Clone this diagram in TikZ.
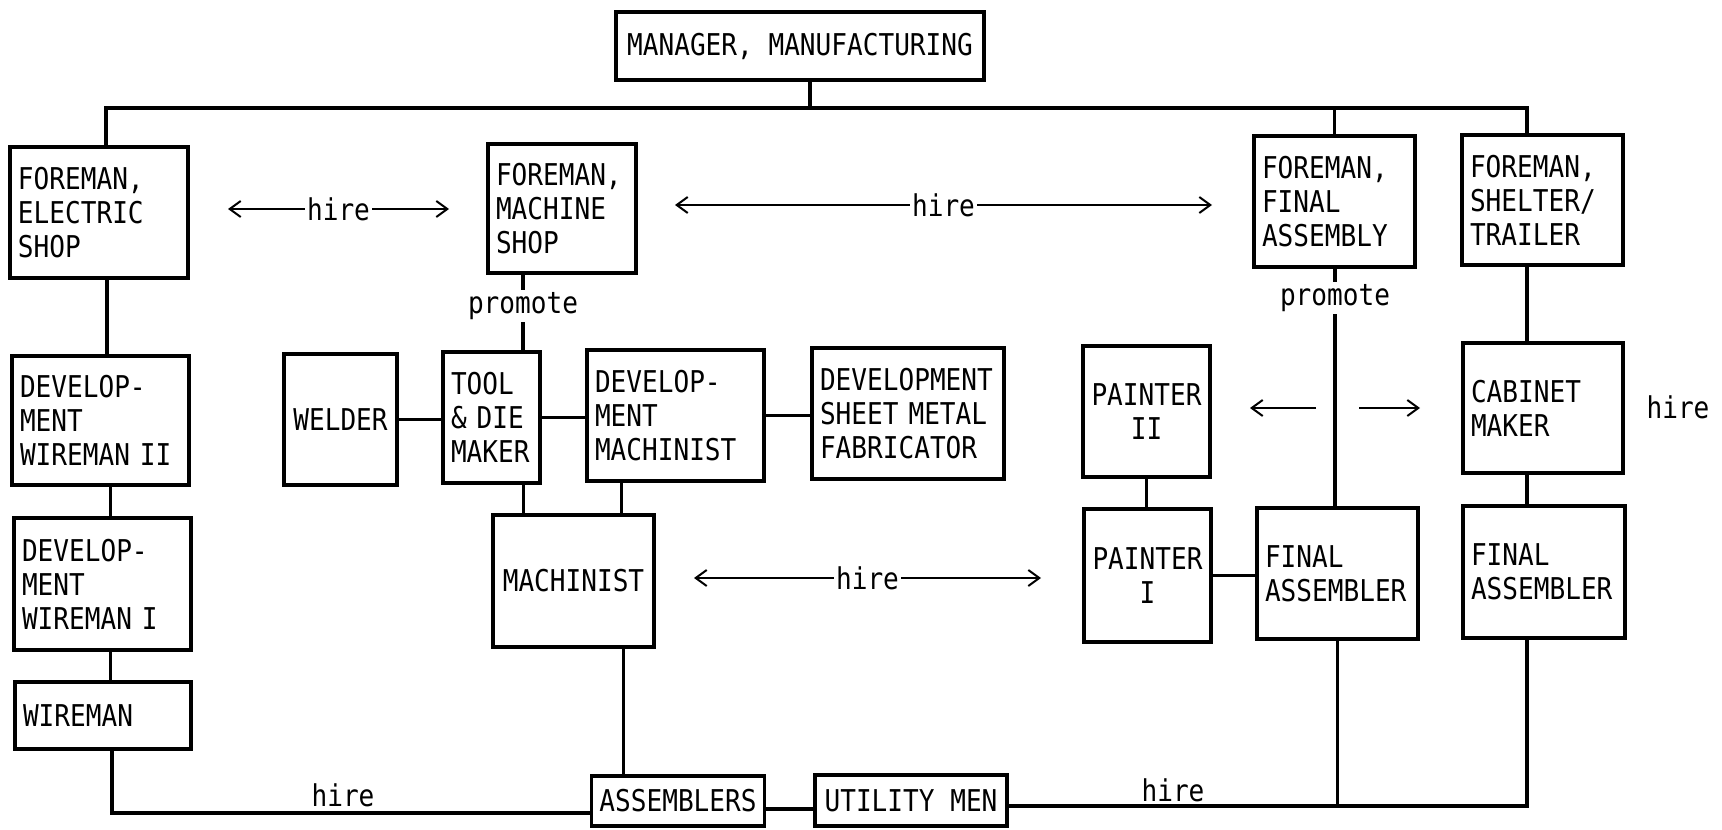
\documentclass[tikz,border=0pt]{standalone}
\usepackage{fontspec}
\newfontfamily\typer{DejaVu Sans Mono}[FakeStretch=0.87]
\usetikzlibrary{arrows.meta}

\tikzset{
  txt/.style={font=\typer\fontsize{15}{17}\selectfont},
  box/.style={txt, draw, line width=1.7pt, inner xsep=4pt, inner ysep=0pt, align=left},
  cbox/.style={box, align=center},
  link/.style={line width=1.7pt},
  hirearrow/.style={line width=1pt},
  tag/.style={txt, inner sep=1pt},
}

\begin{document}
\begin{tikzpicture}[x=0.5pt, y=-0.5pt, >={Straight Barb[length=5.5pt,width=8pt]}]
  \useasboundingbox (0,0) rectangle (1722,829);

  % boxes
  \node[cbox, minimum width=184pt, minimum height=34pt] (mgr) at (800,46) {MANAGER, MANUFACTURING};
  \node[box, text width=81pt, minimum height=65.5pt] (fel) at (99,212.5) {FOREMAN,\\ELECTRIC\\SHOP};
  \node[box, text width=66pt, minimum height=64.5pt] (fms) at (562,208.5) {FOREMAN,\\MACHINE\\SHOP};
  \node[box, text width=72.5pt, minimum height=65.5pt] (fa1) at (1334.5,201.5) {FOREMAN,\\FINAL\\ASSEMBLY};
  \node[box, text width=72.5pt, minimum height=65pt] (fsh) at (1542.5,200) {FOREMAN,\\SHELTER/\\TRAILER};

  \node[box, text width=80.5pt, minimum height=64.5pt] (dw2) at (100.5,420.5) {DEVELOP-\\MENT\\WIREMAN II};
  \node[box, text width=80.5pt, minimum height=66pt] (dw1) at (102.5,584) {DEVELOP-\\MENT\\WIREMAN I};
  \node[box, text width=80pt, minimum height=33.5pt] (wrm) at (103,715.5) {WIREMAN};

  \node[cbox, minimum width=56.5pt, minimum height=65.5pt] (wld) at (340.5,419.5) {WELDER};
  \node[box, text width=40.5pt, minimum height=65.5pt] (tool) at (491.5,417.5) {TOOL\\\& DIE\\MAKER};
  \node[box, text width=80.5pt, minimum height=65.5pt] (dmc) at (675.5,415.5) {DEVELOP-\\MENT\\MACHINIST};
  \node[box, text width=88pt, minimum height=65.5pt] (dsm) at (908,413.5) {DEVELOPMENT\\SHEET METAL\\FABRICATOR};
  \node[cbox, minimum width=80.5pt, minimum height=66pt] (mach) at (573.5,581) {MACHINIST};

  \node[cbox, minimum width=63.5pt, minimum height=65.5pt] (pt2) at (1146.5,411.5) {PAINTER\\II};
  \node[cbox, minimum width=63.5pt, minimum height=66.5pt] (pt1) at (1147.5,575.5) {PAINTER\\I};
  \node[box, text width=72.5pt, minimum height=65.5pt] (fam) at (1337.5,573.5) {FINAL\\ASSEMBLER};
  \node[box, text width=72pt, minimum height=65pt] (cab) at (1543,408) {CABINET\\MAKER};
  \node[box, text width=73pt, minimum height=66pt] (far) at (1544,572) {FINAL\\ASSEMBLER};

  \node[cbox, minimum width=86pt, minimum height=25pt] (asm) at (678,801) {ASSEMBLERS};
  \node[cbox, minimum width=96pt, minimum height=25.5pt] (utl) at (911,800.5) {UTILITY MEN};

  % top bus
  \coordinate (busL) at (106,108);
  \coordinate (busR) at (1527,108);
  \draw[link] (busL |- fel.north) -- (busL) -- (busR) -- (busR |- fsh.north);
  \draw[link] ([xshift=5pt]mgr.south) -- ([xshift=5pt]mgr.south |- busL);
  \draw[link] (fa1.north) -- (fa1.north |- busL);

  % electric shop
  \draw[link] ([xshift=4pt]fel.south) -- ([xshift=4pt]fel.south |- dw2.north);
  \draw[link] ([xshift=5pt]dw2.south) -- ([xshift=5pt]dw2.south |- dw1.north);
  \draw[link] ([xshift=4pt]dw1.south) -- ([xshift=4pt]dw1.south |- wrm.north);

  % machine shop
  \node[tag] (prm1) at (523,306) {promote};
  \draw[link] (fms.south -| prm1) -- (prm1);
  \draw[link] (prm1) -- (tool.north -| prm1);
  \draw[link] (wld.east) -- (wld.east -| tool.west);
  \draw[link] (tool.east) -- (tool.east -| dmc.west);
  \draw[link] (dmc.east) -- (dmc.east -| dsm.west);
  \draw[link] ([xshift=16pt]tool.south) -- ([xshift=16pt]tool.south |- mach.north);
  \draw[link] ([xshift=-27pt]dmc.south) -- ([xshift=-27pt]dmc.south |- mach.north);
  \draw[link] ([xshift=25pt]mach.south) -- ([xshift=25pt]mach.south |- asm.north);

  % final assembly and shelter
  \node[tag] (prm2) at (1335,298) {promote};
  \draw[link] (fa1.south -| prm2) -- (prm2);
  \draw[link] (prm2) -- (prm2 |- fam.north);
  \draw[link] (pt2.south) -- (pt2.south |- pt1.north);
  \draw[link] (pt1.east) -- (pt1.east -| fam.west);
  \draw[link] (busR |- fsh.south) -- (busR |- cab.north);
  \draw[link] (busR |- cab.south) -- (busR |- far.north);

  % bottom lines
  \coordinate (botL) at (112,813);
  \coordinate (botR) at (1527,806);
  \draw[link] (wrm.south -| botL) -- (botL) -- (botL -| asm.west);
  \draw[link, line width=2.4pt] ([yshift=-4pt]asm.east) -- ([yshift=-4pt]asm.east -| utl.west);
  \draw[link] (far.south -| botR) -- (botR) -- (botR -| utl.east);
  \draw[link] (fam.south) -- (fam.south |- botR);
  \node[tag] (hr5) at (343,795) {hire};
  \node[tag] (hr6) at (1173,790) {hire};

  % hire arrows
  \coordinate (h1a) at (228,209);
  \coordinate (h1b) at (449,209);
  \coordinate (h2a) at (675,205);
  \coordinate (h2b) at (1212,205);
  \coordinate (h3a) at (694,578);
  \coordinate (h3b) at (1041,578);
  \draw[hirearrow, <->] (h1a) -- node[tag, fill=white] {hire} (h1b);
  \draw[hirearrow, <->] (h2a) -- node[tag, fill=white] {hire} (h2b);
  \draw[hirearrow, <->] (h3a) -- node[tag, fill=white] {hire} (h3b);

  \coordinate (h4a) at (1316,408);
  \coordinate (h4b) at (1250,408);
  \coordinate (h5a) at (1359,408);
  \coordinate (h5b) at (1420,408);
  \draw[hirearrow, ->] (h4a) -- (h4b);
  \draw[hirearrow, ->] (h5a) -- (h5b);
  \node[tag] (hr4) at (1678,407) {hire};
\end{tikzpicture}
\end{document}
